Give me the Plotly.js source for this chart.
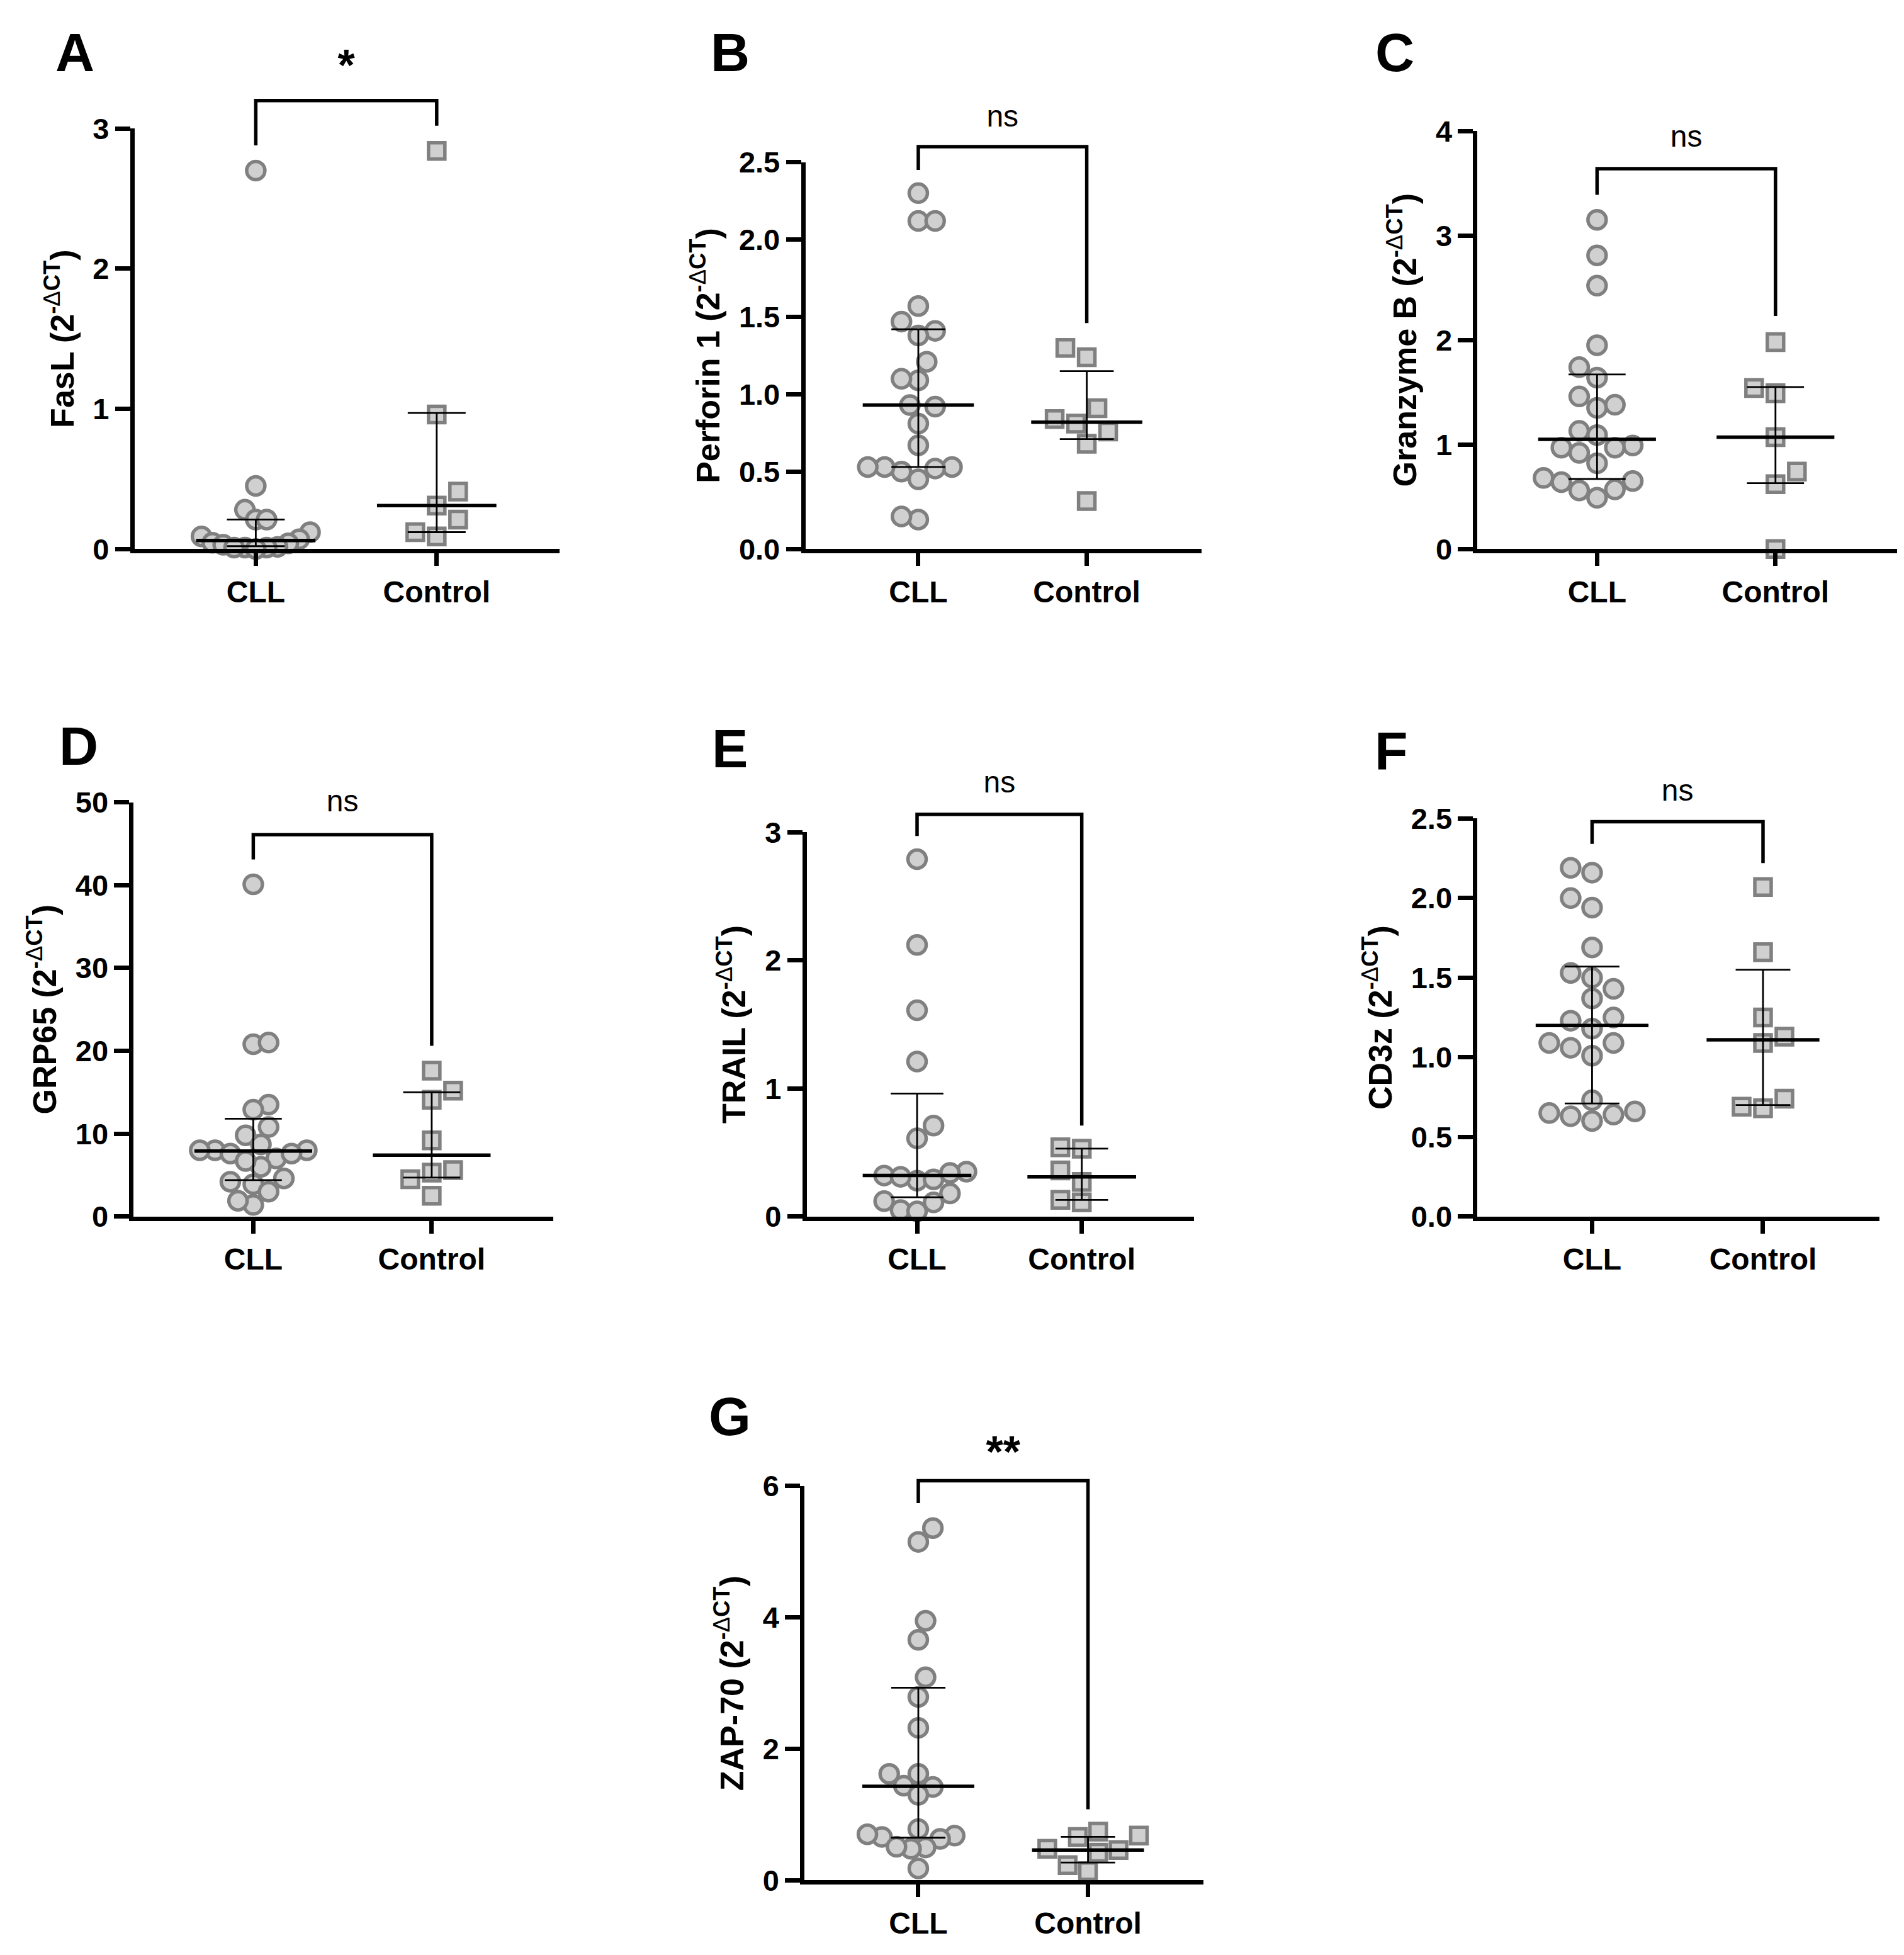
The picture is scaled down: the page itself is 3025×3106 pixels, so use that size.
<!DOCTYPE html>
<html>
<head>
<meta charset="utf-8">
<script src="https://cdn.plot.ly/plotly-3.0.1.min.js"></script>
<style>
  html, body { margin: 0; padding: 0; background: #fff; }
  #chart { width: 3025px; height: 3106px; }
</style>
</head>
<body>
<div id="chart"></div>
<script>
  // groups and labels
  const groups = ['CLL', 'Control'];
  const panelLetters = ['A', 'B', 'C', 'D', 'E', 'F', 'G'];
  const geneNames = ['FasL', 'Perforin 1', 'Granzyme B', 'GRP65', 'TRAIL', 'CD3z', 'ZAP-70'];
  const sigLabels = ['*', 'ns', 'ns', 'ns', 'ns', 'ns', '**'];

  // A - FasL
  const faslCLL = [2.70, 0.45, 0.28, 0.21, 0.21, 0.12, 0.09, 0.07, 0.045, 0.04, 0.03, 0.015, 0.01, 0.01, 0.01, 0.0];
  const faslControl = [2.84, 0.96, 0.41, 0.31, 0.21, 0.12, 0.09];
  const faslMedian = [0.06, 0.31];
  const faslLow = [0.02, 0.12];
  const faslHigh = [0.21, 0.97];
  const faslBracket = [2.88, 3.2, 3.02];
  const faslSigY = 3.42;
  const faslTicks = [0, 1, 2, 3];

  // B - Perforin 1
  const perfCLL = [2.30, 2.12, 2.12, 1.57, 1.47, 1.41, 1.38, 1.21, 1.09, 1.10, 0.92, 0.93, 0.81, 0.67, 0.50, 0.53, 0.53, 0.52, 0.53, 0.45, 0.19, 0.21];
  const perfControl = [1.30, 1.24, 0.91, 0.81, 0.84, 0.76, 0.68, 0.31];
  const perfMedian = [0.93, 0.82];
  const perfLow = [0.53, 0.71];
  const perfHigh = [1.42, 1.15];
  const perfBracket = [2.45, 2.60, 1.46];
  const perfSigY = 2.78;
  const perfTicks = [0, 0.5, 1, 1.5, 2, 2.5];

  // C - Granzyme B
  const gzmCLL = [3.15, 2.81, 2.52, 1.95, 1.74, 1.64, 1.46, 1.35, 1.38, 1.13, 1.09, 0.99, 0.97, 0.92, 0.97, 0.82, 0.65, 0.64, 0.68, 0.56, 0.57, 0.49];
  const gzmControl = [1.98, 1.49, 1.54, 1.07, 0.74, 0.62, 0.0];
  const gzmMedian = [1.05, 1.07];
  const gzmLow = [0.67, 0.63];
  const gzmHigh = [1.67, 1.55];
  const gzmBracket = [3.39, 3.64, 2.23];
  const gzmSigY = 3.92;
  const gzmTicks = [0, 1, 2, 3, 4];

  // D - GRP65
  const grpCLL = [40.1, 20.8, 21.0, 13.5, 12.9, 10.8, 9.8, 8.7, 8.0, 8.0, 7.6, 7.0, 7.6, 8.0, 6.0, 6.7, 4.6, 4.2, 3.9, 3.0, 1.4, 1.9];
  const grpControl = [17.6, 15.2, 14.1, 9.2, 5.6, 5.3, 4.5, 2.5];
  const grpMedian = [7.9, 7.4];
  const grpLow = [4.4, 4.7];
  const grpHigh = [11.8, 15.0];
  const grpBracket = [43.1, 46.1, 20.6];
  const grpSigY = 49.8;
  const grpTicks = [0, 10, 20, 30, 40, 50];

  // E - TRAIL
  const trailCLL = [2.79, 2.12, 1.61, 1.21, 0.71, 0.61, 0.28, 0.32, 0.35, 0.29, 0.31, 0.34, 0.18, 0.12, 0.11, 0.05, 0.04];
  const trailControl = [0.53, 0.54, 0.36, 0.27, 0.11, 0.13];
  const trailMedian = [0.32, 0.31];
  const trailLow = [0.15, 0.13];
  const trailHigh = [0.96, 0.53];
  const trailBracket = [2.97, 3.14, 0.71];
  const trailSigY = 3.37;
  const trailTicks = [0, 1, 2, 3];

  // F - CD3z
  const cd3CLL = [2.19, 2.16, 2.00, 1.94, 1.69, 1.53, 1.50, 1.43, 1.37, 1.25, 1.23, 1.18, 1.09, 1.09, 1.06, 1.01, 0.73, 0.63, 0.66, 0.64, 0.65, 0.60];
  const cd3Control = [2.07, 1.66, 1.25, 1.13, 1.09, 0.74, 0.68, 0.69];
  const cd3Median = [1.20, 1.11];
  const cd3Low = [0.71, 0.70];
  const cd3High = [1.57, 1.55];
  const cd3Bracket = [2.34, 2.48, 2.22];
  const cd3SigY = 2.66;
  const cd3Ticks = [0, 0.5, 1, 1.5, 2, 2.5];

  // G - ZAP-70
  const zapCLL = [5.36, 5.15, 3.95, 3.66, 3.09, 2.79, 2.32, 1.62, 1.62, 1.44, 1.42, 1.30, 0.68, 0.66, 0.63, 0.78, 0.70, 0.50, 0.48, 0.51, 0.18];
  const zapControl = [0.66, 0.74, 0.68, 0.46, 0.42, 0.48, 0.14, 0.23];
  const zapMedian = [1.43, 0.46];
  const zapLow = [0.65, 0.27];
  const zapHigh = [2.93, 0.66];
  const zapBracket = [5.74, 6.08, 1.08];
  const zapSigY = 6.45;
  const zapTicks = [0, 2, 4, 6];

  const panels = [
    { cll: faslCLL, ctl: faslControl, median: faslMedian, low: faslLow, high: faslHigh, bracket: faslBracket, sigY: faslSigY, ticks: faslTicks },
    { cll: perfCLL, ctl: perfControl, median: perfMedian, low: perfLow, high: perfHigh, bracket: perfBracket, sigY: perfSigY, ticks: perfTicks },
    { cll: gzmCLL, ctl: gzmControl, median: gzmMedian, low: gzmLow, high: gzmHigh, bracket: gzmBracket, sigY: gzmSigY, ticks: gzmTicks },
    { cll: grpCLL, ctl: grpControl, median: grpMedian, low: grpLow, high: grpHigh, bracket: grpBracket, sigY: grpSigY, ticks: grpTicks },
    { cll: trailCLL, ctl: trailControl, median: trailMedian, low: trailLow, high: trailHigh, bracket: trailBracket, sigY: trailSigY, ticks: trailTicks },
    { cll: cd3CLL, ctl: cd3Control, median: cd3Median, low: cd3Low, high: cd3High, bracket: cd3Bracket, sigY: cd3SigY, ticks: cd3Ticks },
    { cll: zapCLL, ctl: zapControl, median: zapMedian, low: zapLow, high: zapHigh, bracket: zapBracket, sigY: zapSigY, ticks: zapTicks }
  ];

  // page geometry (measured on a reduced copy, scaled up)
  const W = 3025, H = 3106, S = 3025 / 1526;
  const geom = [
    { cx: 205, sp: 145, y0: 440, yT: 103, lx: 60, ly: 42 },
    { cx: 736, sp: 135, y0: 440, yT: 130, lx: 585, ly: 42 },
    { cx: 1280, sp: 143, y0: 440, yT: 105, lx: 1118, ly: 42 },
    { cx: 203, sp: 143, y0: 975, yT: 643, lx: 63, ly: 598 },
    { cx: 735, sp: 132, y0: 975, yT: 667, lx: 585, ly: 600 },
    { cx: 1276, sp: 137, y0: 975, yT: 656, lx: 1115, ly: 602 },
    { cx: 736, sp: 136, y0: 1507, yT: 1191, lx: 585, ly: 1135 }
  ];
  const xLo = 0.33, xHi = 2.68;
  const markerSize = 29, markerLine = 5.5, dotDiam = 34;
  const maxSpread = 0.3; // widest a column of dots may get, in category units
  const font = 'Liberation Sans, Arial, sans-serif';
  const fillGray = '#d0d0d0', edgeGray = '#808080';

  // GraphPad-like scatter: nearest free half-diameter slot, then squeezed to the column width
  function swarm(values, center, pxX, pxY) {
    const order = values.map((_, i) => i).sort((a, b) => values[a] - values[b]);
    const placed = [];
    const offs = new Array(values.length).fill(0);
    const step = dotDiam / 2;
    order.forEach((idx, n) => {
      const py = values[idx] * pxY;
      for (let k = 0; k < 60; k++) {
        const mag = Math.ceil(k / 2) * step;
        const sign = ((k % 2 === 1) === (n % 2 === 0)) ? 1 : -1;
        const px = k === 0 ? 0 : sign * mag;
        if (placed.every((p) => Math.hypot(p.x - px, p.y - py) >= dotDiam * 0.95)) {
          placed.push({ x: px, y: py });
          offs[idx] = px / pxX;
          break;
        }
      }
    });
    const widest = Math.max(...offs.map(Math.abs));
    const squeeze = widest > maxSpread ? maxSpread / widest : 1;
    return offs.map((o) => center + o * squeeze);
  }

  const traces = [];
  const layout = {
    width: W, height: H,
    margin: { l: 0, r: 0, t: 0, b: 0 },
    paper_bgcolor: '#fff', plot_bgcolor: 'rgba(0,0,0,0)',
    showlegend: false,
    annotations: []
  };

  panels.forEach((p, i) => {
    const g = geom[i];
    const n = i + 1;
    const xa = 'x' + (n === 1 ? '' : n);
    const ya = 'y' + (n === 1 ? '' : n);
    const yb = 'y' + (n + 7);
    const yTop = p.ticks[p.ticks.length - 1];

    const left = (g.cx - (1 - xLo) * g.sp) * S / W;
    const right = (g.cx + (xHi - 1) * g.sp) * S / W;
    const bottom = 1 - g.y0 * S / H;
    const top = 1 - g.yT * S / H;
    const ext = p.bracket[1] * 1.1;
    const topExt = bottom + (top - bottom) * ext / yTop;

    const pxX = g.sp * S;
    const pxY = (g.y0 - g.yT) * S / yTop;

    traces.push({
      type: 'scatter', mode: 'markers', xaxis: xa, yaxis: ya, cliponaxis: false,
      x: swarm(p.cll, 1, pxX, pxY), y: p.cll,
      marker: { symbol: 'circle', size: markerSize, color: fillGray, line: { color: edgeGray, width: markerLine } }
    });
    traces.push({
      type: 'scatter', mode: 'markers', xaxis: xa, yaxis: ya, cliponaxis: false,
      x: swarm(p.ctl, 2, pxX, pxY), y: p.ctl,
      marker: { symbol: 'square', size: markerSize - 3, color: fillGray, line: { color: edgeGray, width: markerLine } }
    });

    // median lines and interquartile bars
    const mx = [], my = [];
    const ex = [], ey = [];
    [1, 2].forEach((c, gi) => {
      mx.push(c - 0.33, c + 0.33, null);
      my.push(p.median[gi], p.median[gi], null);
      ex.push(c, c, null, c - 0.16, c + 0.16, null, c - 0.16, c + 0.16, null);
      ey.push(p.low[gi], p.high[gi], null, p.high[gi], p.high[gi], null, p.low[gi], p.low[gi], null);
    });
    traces.push({ type: 'scatter', mode: 'lines', xaxis: xa, yaxis: yb, x: ex, y: ey, line: { color: '#000', width: 2.8 } });
    traces.push({ type: 'scatter', mode: 'lines', xaxis: xa, yaxis: yb, x: mx, y: my, line: { color: '#000', width: 5.5 } });

    // significance bracket and label
    traces.push({
      type: 'scatter', mode: 'lines', xaxis: xa, yaxis: yb,
      x: [1, 1, 2, 2], y: [p.bracket[0], p.bracket[1], p.bracket[1], p.bracket[2]],
      line: { color: '#000', width: 5.5 }
    });
    const isStar = sigLabels[i] !== 'ns';
    traces.push({
      type: 'scatter', mode: 'text', xaxis: xa, yaxis: yb, cliponaxis: false,
      x: [1.5], y: [p.sigY], text: [sigLabels[i]], textposition: 'middle center',
      textfont: { family: font, size: isStar ? 70 : 48, color: '#000', weight: isStar ? 'bold' : 'normal' }
    });

    layout['xaxis' + (n === 1 ? '' : n)] = {
      domain: [left, right], range: [xLo, xHi], anchor: ya,
      tickvals: [1, 2], ticktext: groups,
      ticks: 'outside', ticklen: 20, tickwidth: 7, tickcolor: '#000',
      showline: true, linewidth: 7, linecolor: '#000',
      showgrid: false, zeroline: false, fixedrange: true,
      tickfont: { family: font, size: 48, color: '#000', weight: 'bold' }
    };
    layout['yaxis' + (n === 1 ? '' : n)] = {
      domain: [bottom, top], range: [0, yTop], anchor: xa,
      tickvals: p.ticks, tickformat: (yTop === 2.5 ? '.1f' : ''),
      ticks: 'outside', ticklen: 24, tickwidth: 7, tickcolor: '#000',
      showline: true, linewidth: 7, linecolor: '#000',
      showgrid: false, zeroline: false, fixedrange: true,
      tickfont: { family: font, size: 47, color: '#000', weight: 'bold' },
      title: {
        text: geneNames[i] + ' (2<sup>-<span style="font-weight:normal">Δ</span>CT</sup>)',
        font: { family: font, size: 52, color: '#000', weight: 'bold' },
        standoff: 16
      }
    };
    layout['yaxis' + (n + 7)] = {
      domain: [bottom, topExt], range: [0, ext], anchor: xa, visible: false, fixedrange: true
    };

    layout.annotations.push({
      xref: 'paper', yref: 'paper', x: g.lx * S / W, y: 1 - g.ly * S / H,
      xanchor: 'center', yanchor: 'middle', showarrow: false, text: panelLetters[i],
      font: { family: font, size: 86, color: '#000', weight: 'bold' }
    });
  });

  Plotly.newPlot('chart', traces, layout, { displayModeBar: false, staticPlot: true });
</script>
</body>
</html>
